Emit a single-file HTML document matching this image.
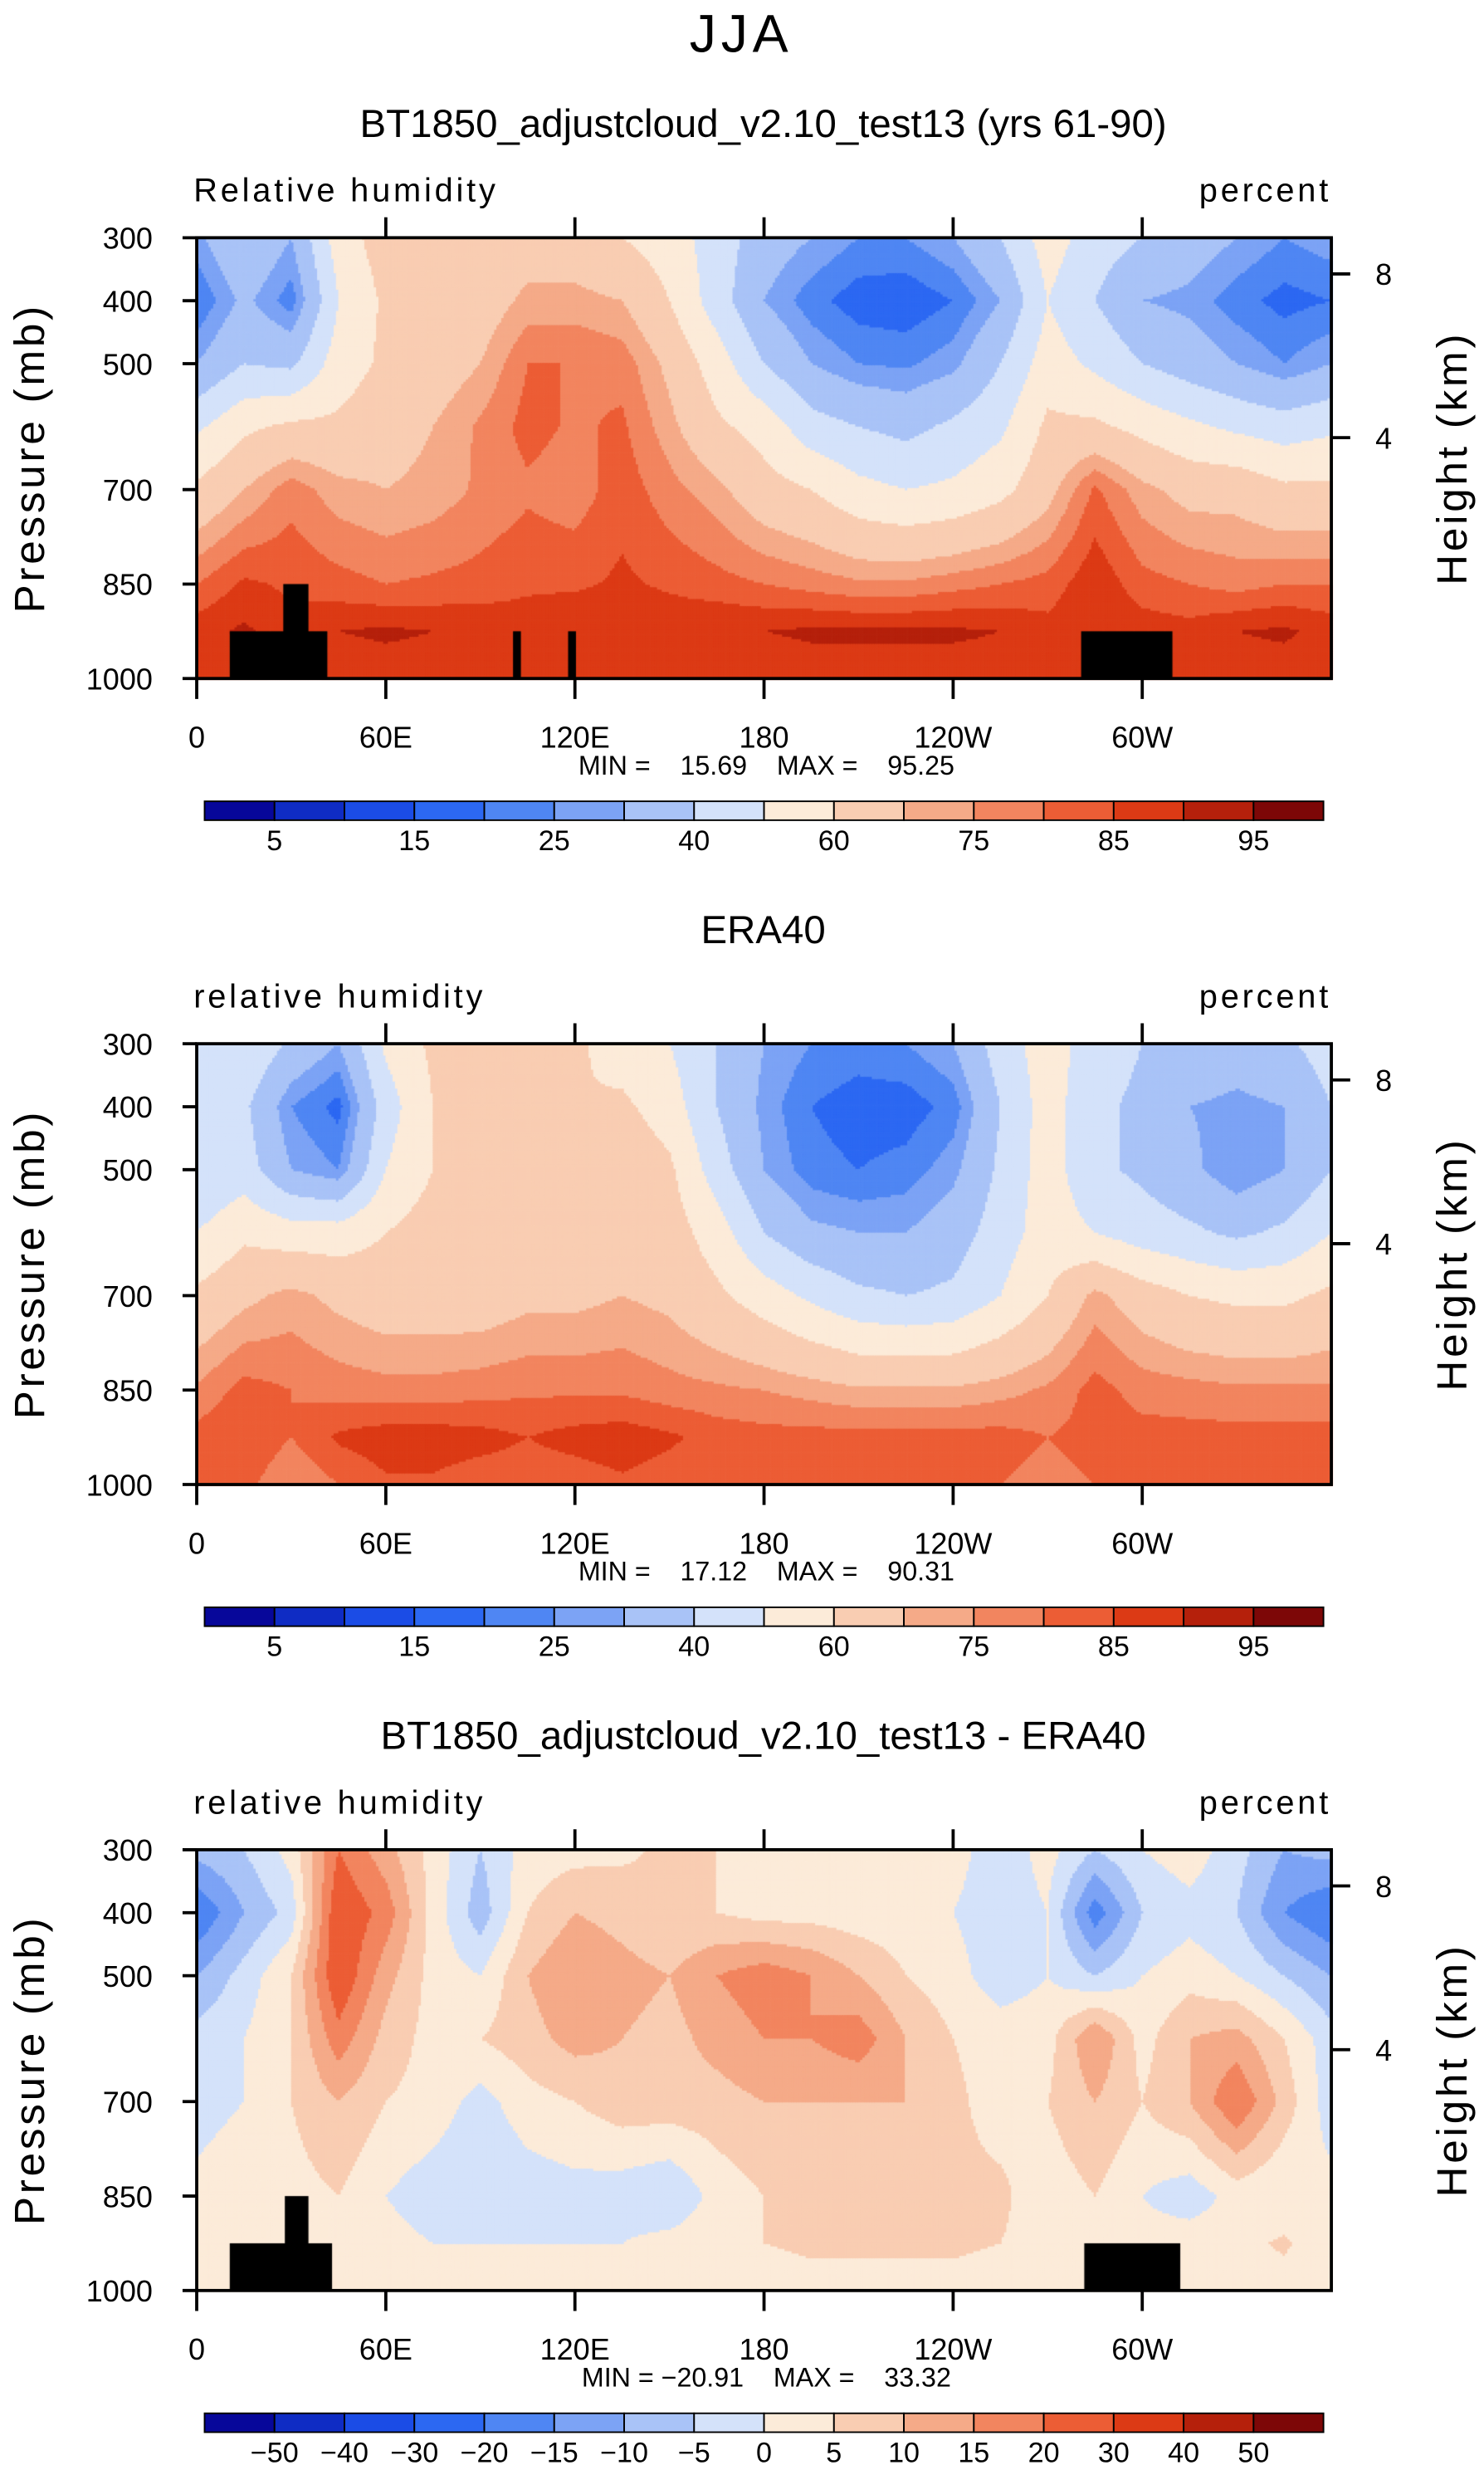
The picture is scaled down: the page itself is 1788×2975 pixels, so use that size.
<!DOCTYPE html>
<html><head><meta charset="utf-8">
<style>
html,body{margin:0;padding:0;background:#fff;}
#wrap{position:relative;width:1788px;height:2975px;}
canvas,svg{position:absolute;left:0;top:0;}
text{font-family:"Liberation Sans",sans-serif;fill:#000;}
.pre{white-space:pre;}
</style></head>
<body>
<div id="wrap">
<canvas id="cv" width="1788" height="2975"></canvas>
<svg id="sv" width="1788" height="2975" viewBox="0 0 943 1569"></svg>
</div>
<script>
// ---- data ----
const lons = [0,15,30,45,60,75,90,105,120,135,150,165,180,195,210,225,240,255,270,285,300,315,330,345,360];
const plevs = [300,400,500,600,700,850,925,1000];
const lonLabels = ["0","60E","120E","180","120W","60W"];
const lonTicks = [0,60,120,180,240,300];
const presTicks = [300,400,500,700,850,1000];
const absLevels = [5,10,15,20,25,30,40,50,60,70,75,80,85,90,95];
const absLabels = ["5","15","25","40","60","75","85","95"];
const diffLevels = [-50,-40,-30,-20,-15,-10,-5,0,5,10,15,20,30,40,50];
const diffLabels = ["−50","−40","−30","−20","−15","−10","−5","0","5","10","15","20","30","40","50"];
const palette = ["#07079a","#0f2cc4","#1b4ce6","#2c68f2","#4f86f3","#7ca3f5","#a9c3f7","#d4e2fa","#fcebd9","#f9cdb2","#f5aa88","#f2855f","#ec5d35","#dc3a15","#b5200b","#7d0707"];
const model = [
[28,40,30,55,65,60,62,65,65,60,55,45,35,30,25,25,30,40,55,45,40,35,30,25,28],
[20,32,22,50,62,62,65,72,72,70,60,45,30,22,17,16,20,30,50,40,30,28,22,18,20],
[30,40,38,55,62,65,70,80,80,78,68,55,40,30,25,24,28,40,55,48,40,35,30,25,30],
[48,58,62,62,66,70,76,82,79,81,72,62,56,44,40,37,42,48,62,62,57,52,48,45,48],
[62,70,78,72,70,72,76,79,77,83,77,72,64,60,53,50,52,57,67,81,72,67,67,62,62],
[80,86,84,82,80,81,82,84,84,86,84,82,80,78,76,76,78,80,82,89,82,80,78,80,80],
[88,91,87,90,91,90,89,88,90,90,89,90,90,91,91,91,91,90,87,90,88,87,90,91,88],
[85,87,83,86,87,87,87,86,85,87,87,86,86,87,87,87,87,87,86,85,85,85,87,87,85]];
const era = [
[45,50,38,30,52,62,60,60,62,55,50,40,30,25,23,25,30,45,55,45,40,38,35,38,45],
[40,42,25,18,45,60,60,60,60,62,55,40,28,20,17,17,22,40,55,42,38,30,28,30,40],
[40,45,30,25,50,60,62,62,68,68,62,45,30,22,20,22,28,42,55,42,38,32,25,30,40],
[50,58,55,55,60,65,62,62,68,70,65,55,40,32,30,30,35,45,55,50,45,42,38,42,50],
[62,68,72,68,65,65,65,68,68,70,68,62,55,48,42,40,42,50,60,72,65,60,58,58,62],
[76,82,80,78,77,77,78,79,79,79,77,76,75,73,71,71,71,73,76,82,78,77,76,76,76],
[82,85,80,86,88,88,87,85,87,88,86,83,82,82,82,82,82,82,80,82,82,82,82,82,82],
[80,82,75,80,84,84,82,82,82,84,82,80,80,80,80,80,80,80,78,80,80,80,80,80,80]];
const diff = [
[-8,-5,2,20,12,3,-5,2,3,4,6,5,4,5,5,3,2,-3,2,-5,0,3,-3,-10,-8],
[-20,-10,-3,25,18,3,-8,5,10,8,5,5,3,3,2,2,0,-3,0,-18,-5,-2,-5,-15,-20],
[-10,-3,5,25,12,3,0,10,15,12,10,15,18,15,10,5,2,-3,0,-5,0,3,0,-5,-10],
[-3,0,5,18,8,3,5,8,12,10,8,12,15,15,18,10,5,3,3,15,3,10,12,5,-3],
[-3,0,5,10,5,3,-2,3,5,8,8,8,10,10,10,10,6,3,5,10,5,10,20,8,-3],
[2,5,3,5,0,-3,-5,-3,-2,-3,-5,2,5,6,6,6,6,6,2,5,0,-3,2,0,2],
[0,3,0,2,2,0,0,0,0,0,2,4,5,6,6,6,6,5,3,0,2,3,3,6,0],
[2,2,2,2,2,1,2,2,2,2,2,2,2,3,3,3,3,2,2,2,2,2,2,2,2]];

// ---- geometry (display units; svg viewBox 943x1569) ----
const X0=125, X1=846;
const xOf = lon => X0 + (lon/360)*(X1-X0);
const yOfP = (p,top) => top + (p-300)/700*280;
const panels = [
 {top:151, data:model, levels:absLevels, labels:absLabels, title:"BT1850_adjustcloud_v2.10_test13 (yrs 61-90)", left:"Relative humidity", mm:"MIN =    15.69    MAX =    95.25", oro:[[146,208,401],[180,196,371],[326,331,401],[361,366,401],[687,745,401]]},
 {top:663, data:era, levels:absLevels, labels:absLabels, title:"ERA40", left:"relative humidity", mm:"MIN =    17.12    MAX =    90.31", oro:[]},
 {top:1175, data:diff, levels:diffLevels, labels:diffLabels, title:"BT1850_adjustcloud_v2.10_test13 - ERA40", left:"relative humidity", mm:"MIN = −20.91    MAX =    33.32", oro:[[146,211,1425],[181,196,1395],[689,750,1425]]}
];

function interp(data, lon, p){
  let i=Math.min(Math.floor(lon/15), lons.length-2);
  let tx=(lon-lons[i])/15;
  let j=0; while(j<plevs.length-2 && p>plevs[j+1]) j++;
  let ty=(p-plevs[j])/(plevs[j+1]-plevs[j]);
  const a=data[j][i], b=data[j][i+1], c=data[j+1][i], d=data[j+1][i+1];
  return (a*(1-tx)+b*tx)*(1-ty)+(c*(1-tx)+d*tx)*ty;
}
function colorFor(v, levels){
  let k=0; while(k<levels.length && v>=levels[k]) k++;
  return palette[k];
}

const cv=document.getElementById('cv'); const ctx=cv.getContext('2d');
const S=1788/943; ctx.scale(S, 2975/1569);
const step=1.5;
panels.forEach(pn=>{
  for(let x=X0;x<X1;x+=step){
    for(let y=pn.top;y<pn.top+280;y+=step){
      const lon=(x+step/2-X0)/(X1-X0)*360;
      const p=300+(y+step/2-pn.top)/280*700;
      ctx.fillStyle=colorFor(interp(pn.data,lon,Math.min(p,1000)),pn.levels);
      ctx.fillRect(x,y,step+0.4,step+0.4);
    }
  }
  ctx.fillStyle="#000";
  pn.oro.forEach(o=>ctx.fillRect(o[0],o[2],o[1]-o[0],pn.top+280-o[2]));
});

const NS="http://www.w3.org/2000/svg";
const sv=document.getElementById('sv');
function el(tag,attrs,parent){const e=document.createElementNS(NS,tag);for(const k in attrs)e.setAttribute(k,attrs[k]);(parent||sv).appendChild(e);return e;}
function txt(s,attrs,parent){const e=el('text',attrs,parent);e.textContent=s;return e;}

const main=txt("JJA",{x:471,y:33,"font-size":34,"text-anchor":"middle","font-weight":"300","letter-spacing":"3"});



panels.forEach((pn,idx)=>{
  const g=el('g',{});
  
  
  const T=pn.top;
  const t=txt(pn.title,{x:485,y:T-64,"font-size":25,"text-anchor":"middle"},g);
  
  
  const l=txt(pn.left,{x:123,y:T-23,"font-size":21,"letter-spacing":"2"},g);
  
  
  const r=txt("percent",{x:846,y:T-23,"font-size":21,"text-anchor":"end","letter-spacing":"2"},g);
  
  
  const box=el('rect',{x:X0,y:T,width:X1-X0,height:280,fill:"none",stroke:"#000","stroke-width":2},g);
  
  
  presTicks.forEach(p=>{
    const y=yOfP(p,T);
    el('line',{x1:X0-9,x2:X0,y1:y,y2:y,stroke:"#000","stroke-width":2},g);
    const tl=txt(String(p),{x:97,y:y+7,"font-size":19,"text-anchor":"end"},g);
    
    
  });
  [[8,23],[4,127]].forEach(h=>{
    const y=T+h[1];
    el('line',{x1:X1,x2:X1+12,y1:y,y2:y,stroke:"#000","stroke-width":2},g);
    const hl=txt(String(h[0]),{x:874,y:y+7,"font-size":19},g);
    
    
  });
  lonTicks.forEach((lon,i)=>{
    const x=xOf(lon);
    if(i>0){el('line',{x1:x,x2:x,y1:T-13,y2:T,stroke:"#000","stroke-width":2},g);}
    el('line',{x1:x,x2:x,y1:T+280,y2:T+293,stroke:"#000","stroke-width":2},g);
    const xl=txt(lonLabels[i],{x:x,y:T+324,"font-size":19,"text-anchor":"middle"},g);
    
    
  });
  const yl=txt("Pressure (mb)",{x:0,y:0,"font-size":27,"text-anchor":"middle","letter-spacing":"2",transform:`translate(28,${T+140}) rotate(-90)`},g);
  
  
  const yr=txt("Height (km)",{x:0,y:0,"font-size":27,"text-anchor":"middle","letter-spacing":"2",transform:`translate(932,${T+140}) rotate(-90)`},g);
  
  
  const mm=txt(pn.mm,{x:487,y:T+341,"font-size":17,"text-anchor":"middle","class":"pre"},g);
  
  
  // colorbar
  const cb=el('g',{},g);
  
  
  const cbX=130, cbW=711, cbY=T+358, cbH=12, n=palette.length, w=cbW/n;
  palette.forEach((c,k)=>{
    const rr=el('rect',{x:cbX+k*w,y:cbY,width:w,height:cbH,fill:c,stroke:"#000","stroke-width":1},cb);
    
    
  });
  const every = pn.labels.length===pn.levels.length ? 1 : 2;
  pn.labels.forEach((s,k)=>{
    const b = every===1 ? k+1 : 2*k+1;
    const cl=txt(s,{x:cbX+b*w,y:cbY+31,"font-size":18,"text-anchor":"middle"},cb);
    
    
  });
});
</script>
</body></html>
